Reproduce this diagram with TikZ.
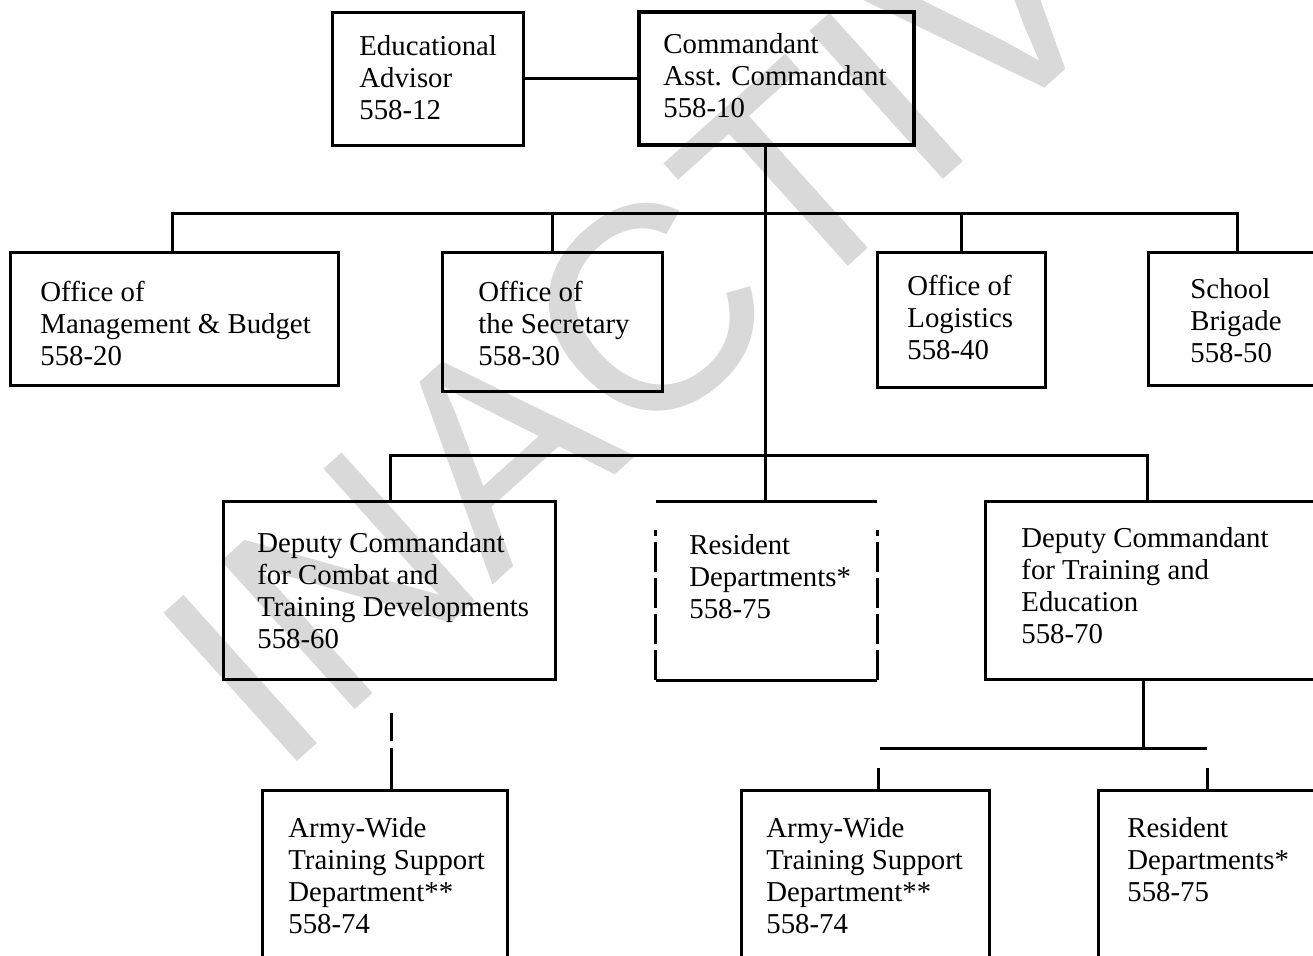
\documentclass[tikz,border=0pt]{standalone}
\usepackage{fontspec}
\setmainfont{Liberation Serif}
\newfontfamily\wmfont{Liberation Sans}
\usetikzlibrary{fit}
\begin{document}
\begin{tikzpicture}[x=0.5pt,y=-0.5pt,
  box/.style={draw, line width=1.5pt, inner sep=0pt, rectangle},
  lbl/.style={anchor=north west, inner sep=0pt, align=left, font=\fontsize{14.4}{16}\selectfont},
  conn/.style={line width=1.5pt},
  wm/.style={text=black!15, font=\wmfont\fontsize{145}{145}\selectfont, inner sep=0pt}]
\useasboundingbox (0,0) rectangle (1313,955);
\clip (0,0) rectangle (1313,955);
% watermark
\node[wm, rotate=42, anchor=base west] (wm) at (277,780) {INACTIVE};
% boxes
\node[box, fit={(332,12) (523,145)}] (edu) {};
\node[box, line width=2.2pt, fit={(639,12) (914,145)}] (cmd) {};
\node[box, fit={(10,252) (338,385)}] (mb) {};
\node[box, fit={(442,252) (662,391)}] (sec) {};
\node[box, fit={(877,252) (1045,387)}] (log) {};
\node[box, fit={(1148,252) (1340,385)}] (sb) {};
\node[box, fit={(223,501) (555,679)}] (dc) {};
\node[inner sep=0pt, fit={(656,502) (877,680)}] (res) {};
\node[box, fit={(985,501) (1340,679)}] (dt) {};
\node[box, fit={(262,790) (507,970)}] (aw1) {};
\node[box, fit={(741,790) (989,970)}] (aw2) {};
\node[box, fit={(1098,790) (1340,970)}] (res2) {};
% labels
\node[lbl] (eduT) at (359,35) {Educational\\Advisor\\558-12};
\node[lbl] (cmdT) at (663,33) {Commandant\\Asst. Commandant\\558-10};
\node[lbl] (mbT) at (40,281) {Office of\\Management \& Budget\\558-20};
\node[lbl] (secT) at (478,281) {Office of\\the Secretary\\558-30};
\node[lbl] (logT) at (907,275) {Office of\\Logistics\\558-40};
\node[lbl] (sbT) at (1190,278) {School\\Brigade\\558-50};
\node[lbl] (dcT) at (257,532) {Deputy Commandant\\for Combat and\\Training Developments\\558-60};
\node[lbl] (resT) at (689,534) {Resident\\Departments*\\558-75};
\node[lbl] (dtT) at (1021,527) {Deputy Commandant\\for Training and\\Education\\558-70};
\node[lbl] (aw1T) at (288,817) {Army-Wide\\Training Support\\Department**\\558-74};
\node[lbl] (aw2T) at (766,817) {Army-Wide\\Training Support\\Department**\\558-74};
\node[lbl] (res2T) at (1127,817) {Resident\\Departments*\\558-75};
% connectors
\coordinate (spine) at (765,0);
\draw[conn] (spine |- cmd.south) -- (spine |- res.north);
\draw[conn] (edu.east) -- (cmd.west);
\coordinate (tl) at (172,213);
\coordinate (tr) at (1237,213);
\draw[conn] (tl |- mb.north) -- (tl) -- (tr) -- (tr |- sb.north);
\draw[conn] (sec.north |- tl) -- (sec.north);
\draw[conn] (log.north |- tl) -- (log.north);
\coordinate (ml) at (390,455);
\coordinate (mr) at (1147,455);
\draw[conn] (ml |- dc.north) -- (ml) -- (mr) -- (mr |- dt.north);
\draw[conn] (res.north west) -- (res.north east);
\draw[conn] (res.south west) -- (res.south east);
\draw[conn, dash pattern=on 15pt off 3pt] (res.south west) -- ([yshift=-14pt]res.north west);
\draw[conn, dash pattern=on 15pt off 3pt] (res.south east) -- ([yshift=-14pt]res.north east);
\coordinate (bt) at (1143,748);
\coordinate (bl) at (880,748);
\coordinate (br) at (1207,748);
\draw[conn] (bt |- dt.south) -- (bt);
\draw[conn] (bl) -- (br);
\coordinate (dl) at (878,768);
\coordinate (dr) at (1207,768);
\draw[conn] (dl) -- (dl |- aw2.north);
\draw[conn] (dr) -- (dr |- res2.north);
\coordinate (dd) at (391,713);
\draw[conn, dash pattern=on 14pt off 3.5pt on 30pt off 0pt] (dd) -- (dd |- aw1.north);
\end{tikzpicture}
\end{document}
